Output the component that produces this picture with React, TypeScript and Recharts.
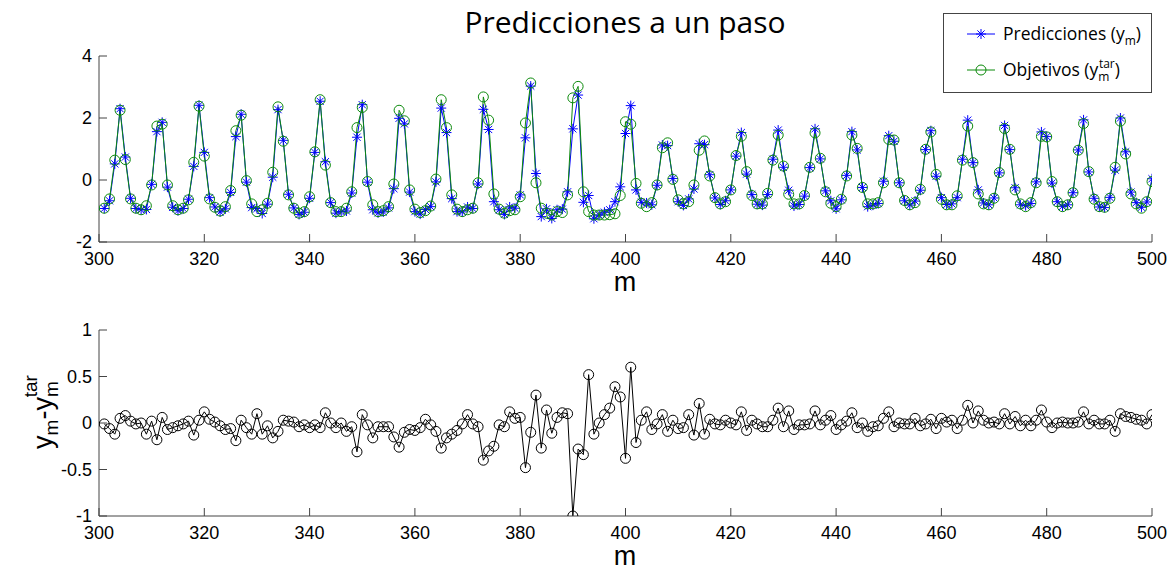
import React from 'react';
import { LineChart, Line, XAxis, YAxis } from 'recharts';

// m = 301 .. 500 (one sample per step)
const mIndex: number[] = Array.from({ length: 200 }, (_, i) => 301 + i);

// targets y_m^tar (circles)
const targets: number[] = [
	-0.91, -0.61, 0.64, 2.25, 0.66, -0.61, -0.91, -0.96, -0.83, -0.16,
	1.74, 1.8, -0.16, -0.83, -0.96, -0.91, -0.64, 0.57, 2.38, 0.77,
	-0.61, -0.88, -1.0, -0.86, -0.34, 1.59, 2.09, -0.02, -0.77, -1.02,
	-0.96, -0.75, 0.25, 2.36, 1.25, -0.48, -0.91, -1.07, -1.02, -0.54,
	0.91, 2.59, 0.48, -0.73, -1.02, -1.02, -0.91, -0.38, 1.69, 2.34,
	-0.05, -0.8, -1.02, -0.99, -0.86, -0.13, 2.25, 1.91, -0.32, -0.94,
	-1.05, -0.99, -0.84, 0.03, 2.59, 1.69, -0.48, -0.94, -1.02, -0.96,
	-0.91, -0.09, 2.68, 1.93, -0.45, -0.94, -1.07, -0.99, -0.96, -0.54,
	1.84, 3.13, -0.09, -0.91, -1.07, -1.13, -1.02, -1.05, -0.48, 2.65,
	3.02, -0.38, -1.02, -1.13, -1.13, -1.13, -1.12, -1.09, -0.5, 1.88,
	1.8, -0.11, -0.75, -0.86, -0.73, -0.16, 1.04, 1.2, 0.02, -0.64,
	-0.77, -0.7, -0.16, 0.96, 1.26, 0.13, -0.57, -0.77, -0.7, -0.32,
	0.79, 1.41, 0.27, -0.5, -0.77, -0.77, -0.43, 0.64, 1.45, 0.45,
	-0.46, -0.77, -0.77, -0.5, 0.41, 1.52, 0.7, -0.38, -0.75, -0.86,
	-0.62, 0.13, 1.45, 1.02, -0.24, -0.77, -0.77, -0.73, -0.09, 1.31,
	1.29, -0.09, -0.66, -0.8, -0.73, -0.3, 0.99, 1.55, 0.18, -0.62,
	-0.8, -0.8, -0.51, 0.64, 1.74, 0.56, -0.45, -0.77, -0.8, -0.59,
	0.24, 1.66, 0.99, -0.32, -0.77, -0.86, -0.73, -0.09, 1.41, 1.39,
	-0.05, -0.7, -0.86, -0.8, -0.41, 0.96, 1.82, 0.27, -0.62, -0.86,
	-0.88, -0.59, 0.41, 1.9, 0.84, -0.45, -0.77, -0.91, -0.7, -0.05,
];

// y_m - y_m^tar
const residuals: number[] = [
	-0.01, -0.06, -0.12, 0.05, 0.08, 0.02, -0.01, 0.0, -0.12, 0.02,
	-0.18, 0.06, -0.07, -0.05, -0.03, -0.01, 0.02, -0.13, 0.03, 0.12,
	0.04, 0.01, -0.03, -0.07, -0.06, -0.19, 0.03, -0.05, -0.12, 0.1,
	-0.12, -0.03, -0.16, -0.09, 0.03, 0.02, 0.01, -0.04, -0.02, -0.05,
	-0.02, -0.05, 0.11, 0.0, -0.05, 0.0, -0.09, -0.04, -0.31, 0.09,
	-0.02, -0.16, -0.04, -0.04, -0.04, -0.15, -0.26, -0.1, -0.07, -0.08,
	-0.05, 0.04, -0.02, -0.09, -0.27, -0.16, -0.12, -0.08, -0.01, 0.09,
	-0.01, -0.04, -0.4, -0.3, -0.25, -0.02, -0.04, 0.12, 0.05, 0.06,
	-0.48, -0.1, 0.3, -0.27, 0.14, -0.11, 0.06, 0.11, 0.1, -1.0,
	-0.28, -0.34, 0.52, -0.12, 0.0, 0.09, 0.16, 0.39, 0.28, -0.38,
	0.6, -0.21, 0.03, 0.12, -0.07, -0.01, 0.09, -0.09, 0.03, -0.06,
	-0.05, 0.09, -0.13, 0.21, -0.12, 0.04, -0.01, -0.02, 0.03, 0.0,
	-0.02, 0.12, -0.08, 0.03, -0.01, -0.04, -0.04, 0.03, 0.16, -0.04,
	0.13, -0.07, -0.02, -0.02, -0.01, 0.13, -0.02, 0.03, 0.08, -0.07,
	-0.02, 0.02, 0.11, -0.05, 0.0, -0.09, -0.04, -0.03, 0.05, 0.12,
	-0.04, 0.0, -0.01, -0.01, 0.05, -0.03, -0.01, 0.04, -0.06, 0.05,
	0.01, 0.03, -0.06, 0.03, 0.19, 0.0, 0.13, 0.03, 0.0, 0.01,
	-0.01, 0.1, -0.01, 0.07, -0.03, 0.03, -0.03, 0.03, 0.14, 0.01,
	-0.05, 0.0, 0.01, 0.0, 0.0, 0.01, 0.12, -0.01, 0.03, -0.01,
	-0.01, 0.03, -0.09, 0.1, 0.07, 0.06, 0.04, 0.03, -0.01, 0.09,
];

const xTicks = [300, 320, 340, 360, 380, 400, 420, 440, 460, 480, 500];
const topYTicks = [-2, 0, 2, 4];
const bottomYTicks = [-1, -0.5, 0, 0.5, 1];

// predictions y_m = y_m^tar + (y_m - y_m^tar)
const topData = mIndex.map((m, i) => ({
	m,
	tar: targets[i],
	pred: Math.round((targets[i] + residuals[i]) * 100) / 100,
}));
const bottomData = mIndex.map((m, i) => ({ m, err: residuals[i] }));

const AXIS = '#444';
const BLUE = '#0000ff';
const GREEN = '#0b8a0b';
const TICK_FONT = { fontSize: 18, fill: '#000', fontFamily: '"Liberation Sans", Arial, sans-serif' };
const SANS = '"Open Sans", "Noto Sans", sans-serif';

const StarDot = (props: any) => {
	const { cx, cy, index } = props;
	if (cx == null || cy == null) return <g key={index} />;
	const r = 5;
	const d = 3.6;
	return (
		<g key={index} stroke={BLUE} strokeWidth={1}>
			<line x1={cx - r} y1={cy} x2={cx + r} y2={cy} />
			<line x1={cx} y1={cy - r} x2={cx} y2={cy + r} />
			<line x1={cx - d} y1={cy - d} x2={cx + d} y2={cy + d} />
			<line x1={cx - d} y1={cy + d} x2={cx + d} y2={cy - d} />
		</g>
	);
};

const ringDot = (color: string) => (props: any) => {
	const { cx, cy, index } = props;
	if (cx == null || cy == null) return <g key={index} />;
	return <circle key={index} cx={cx} cy={cy} r={5} fill="none" stroke={color} strokeWidth={1} />;
};

const frameAxes = (domain: number[], yTicks: number[]) => [
	<XAxis key="xb" xAxisId="b" dataKey="m" type="number" domain={[300, 500]} ticks={xTicks} interval={0} allowDataOverflow height={30} tickSize={-8} tickMargin={18} stroke={AXIS} tick={TICK_FONT} />,
	<XAxis key="xt" xAxisId="t" orientation="top" dataKey="m" type="number" domain={[300, 500]} ticks={xTicks} interval={0} allowDataOverflow height={0} tickSize={-8} tickFormatter={() => ''} stroke={AXIS} />,
	<YAxis key="yl" yAxisId="l" type="number" domain={domain} ticks={yTicks} interval={0} allowDataOverflow width={40} tickSize={-8} tickMargin={15} stroke={AXIS} tick={TICK_FONT} />,
	<YAxis key="yr" yAxisId="r" orientation="right" type="number" domain={domain} ticks={yTicks} interval={0} allowDataOverflow width={0} tickSize={-8} tickFormatter={() => ''} stroke={AXIS} />,
];

export default function App() {
	return (
		<div style={{ position: 'absolute', left: 0, top: 0, width: 1175, height: 574, background: '#fff' }}>
			<div style={{ position: 'absolute', left: 0, top: 0 }}>
				<LineChart width={1175} height={300} data={topData} margin={{ top: 56, right: 23, bottom: 28, left: 59 }}>
					{frameAxes([-2, 4], topYTicks)}
					<Line xAxisId="b" yAxisId="l" dataKey="pred" stroke={BLUE} strokeWidth={1} dot={StarDot} isAnimationActive={false} />
					<Line xAxisId="b" yAxisId="l" dataKey="tar" stroke={GREEN} strokeWidth={1} dot={ringDot(GREEN)} isAnimationActive={false} />
				</LineChart>
			</div>
			<div style={{ position: 'absolute', left: 0, top: 300 }}>
				<LineChart width={1175} height={274} data={bottomData} margin={{ top: 30, right: 23, bottom: 28, left: 59 }}>
					{frameAxes([-1, 1], bottomYTicks)}
					<Line xAxisId="b" yAxisId="l" dataKey="err" stroke="#000" strokeWidth={1} dot={ringDot('#000')} isAnimationActive={false} />
				</LineChart>
			</div>
			<svg width={1175} height={574} style={{ position: 'absolute', left: 0, top: 0, pointerEvents: 'none' }}>
				<text x={625} y={33} textAnchor="middle" fontFamily={SANS} fontSize={30} fill="#000">Predicciones a un paso</text>
				<text x={625} y={291} textAnchor="middle" fontFamily={TICK_FONT.fontFamily} fontSize={27} fill="#000">m</text>
				<text x={625} y={565} textAnchor="middle" fontFamily={TICK_FONT.fontFamily} fontSize={27} fill="#000">m</text>

				<text x={52} y={412} transform="rotate(-90 52 412)" textAnchor="middle" fontFamily={TICK_FONT.fontFamily} fontSize={27} fill="#000">
					y<tspan fontSize={19} dy={6}>m</tspan>
					<tspan dy={-6}>-y</tspan>
					<tspan fontSize={19} dy={6}>m</tspan>
					<tspan fontSize={19} dx={-16} dy={-21}>tar</tspan>
				</text>

				<rect x={943.5} y={13.5} width={208} height={79} fill="#fff" stroke={AXIS} />
				<line x1={967} y1={34} x2={995} y2={34} stroke={BLUE} strokeWidth={1} />
				<StarDot cx={981} cy={34} index="ls" />
				<text x={1003} y={40} fontFamily={SANS} fontSize={17.5} fill="#000">
					Predicciones (y<tspan fontSize={12} dy={5}>m</tspan>
					<tspan dy={-5}>)</tspan>
				</text>
				<line x1={967} y1={70} x2={995} y2={70} stroke={GREEN} strokeWidth={1} />
				<circle cx={981} cy={70} r={5} fill="none" stroke={GREEN} strokeWidth={1} />
				<text x={1003} y={76} fontFamily={SANS} fontSize={17.5} fill="#000">
					Objetivos (y<tspan fontSize={12} dy={5}>m</tspan>
					<tspan fontSize={12} dx={-10.5} dy={-13}>tar</tspan>
					<tspan dy={8}>)</tspan>
				</text>
			</svg>
		</div>
	);
}
